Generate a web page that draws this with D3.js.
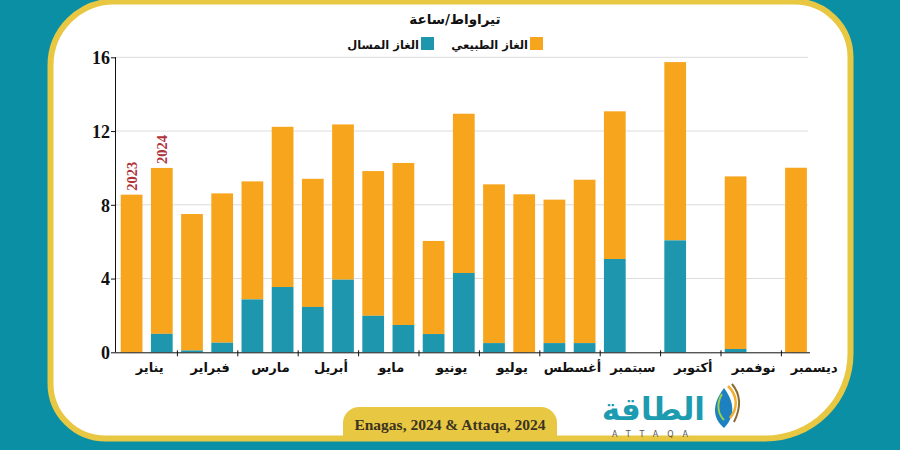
<!DOCTYPE html>
<html><head><meta charset="utf-8">
<script src="https://cdn.jsdelivr.net/npm/d3@7"></script>
<style>body{margin:0;background:#0b8fa5;}svg{display:block;}</style>
</head><body>
<svg id="chart" width="900" height="450"></svg>
<script>
const months = ['يناير','فبراير','مارس','أبريل','مايو','يونيو','يوليو','أغسطس','سبتمبر','أكتوبر','نوفمبر','ديسمبر'];
const years = ['2023','2024'];
// الغاز المسال (LNG)
const lng2023 = [0, 0.1, 2.87, 2.46, 1.98, 0.99, 0.5, 0.5, 5.06, 6.07, 0.18, 0];
const lng2024 = [1.0, 0.52, 3.54, 3.94, 1.48, 4.3, 0, 0.5];
// الغاز الطبيعي (natural gas)
const ng2023 = [8.55, 7.4, 6.4, 6.95, 7.85, 5.05, 8.61, 7.78, 8.01, 9.67, 9.36, 10.01];
const ng2024 = [9.0, 8.1, 8.69, 8.42, 8.79, 8.64, 8.57, 8.86];
const yTicks = [0, 4, 8, 12, 16];
const seriesNames = ['الغاز الطبيعي','الغاز المسال'];
const title = 'تيراواط/ساعة';
const source = 'Enagas, 2024 & Attaqa, 2024';

const colNG = '#f7a51d', colLNG = '#1e96ad', yellow = '#e8c743', teal = '#0b8fa5';
const svg = d3.select('#chart');

// background & frame
svg.append('rect').attr('width',900).attr('height',450).attr('fill',teal);
function roundRect(x0,y0,x1,y1,tl,tr,br,bl){
  return `M${x0+tl},${y0} H${x1-tr} A${tr},${tr} 0 0 1 ${x1},${y0+tr} V${y1-br} A${br},${br} 0 0 1 ${x1-br},${y1} H${x0+bl} A${bl},${bl} 0 0 1 ${x0},${y1-bl} V${y0+tl} A${tl},${tl} 0 0 1 ${x0+tl},${y0} Z`;
}
svg.append('path').attr('d',roundRect(50.5,1.5,850.5,438.5,64,56,85,55))
  .attr('fill','#ffffff').attr('stroke',yellow).attr('stroke-width',6);

// source tab
svg.append('path').attr('d','M343,440 V423 A16,16 0 0 1 359,407 H541 A16,16 0 0 1 557,423 V440 Z').attr('fill',yellow);
svg.append('text').attr('x',450).attr('y',430).attr('text-anchor','middle')
  .attr('font-family','Liberation Serif').attr('font-weight','bold').attr('font-size',15.5)
  .attr('fill','#3b3420').text(source);

// scales
const y = d3.scaleLinear().domain([0,16]).range([352.3,57.3]);
const x0 = d3.scaleBand().domain(months).range([116.5, 841.3]).padding(0);
const x1 = d3.scaleBand().domain(years).range([0, x0.bandwidth()]).paddingInner(0.28).paddingOuter(0.14);

// grid
svg.append('g').selectAll('line').data(yTicks.filter(d=>d>0)).join('line')
  .attr('x1',116).attr('x2',808).attr('y1',d=>y(d)).attr('y2',d=>y(d))
  .attr('stroke','#dcdcdc').attr('stroke-width',1);

// data rows
const rows = [];
months.forEach((m,i)=>{
  rows.push({m, yr:'2023', lng:lng2023[i], ng:ng2023[i]});
  if (i < ng2024.length) rows.push({m, yr:'2024', lng:lng2024[i], ng:ng2024[i]});
});
const bars = svg.append('g');
bars.selectAll('rect.ng').data(rows).join('rect').attr('class','ng')
  .attr('x',d=>x0(d.m)+x1(d.yr)).attr('width',x1.bandwidth())
  .attr('y',d=>y(d.lng+d.ng)).attr('height',d=>y(d.lng)-y(d.lng+d.ng)).attr('fill',colNG);
bars.selectAll('rect.lng').data(rows.filter(d=>d.lng>0)).join('rect').attr('class','lng')
  .attr('x',d=>x0(d.m)+x1(d.yr)).attr('width',x1.bandwidth())
  .attr('y',d=>y(d.lng)).attr('height',d=>y(0)-y(d.lng)).attr('fill',colLNG);

// year labels over first group
const first = rows.filter(d=>d.m===months[0]);
svg.append('g').selectAll('text').data(first).join('text')
  .attr('transform',d=>`translate(${x0(d.m)+x1(d.yr)+x1.bandwidth()/2+5},${y(d.lng+d.ng)-4}) rotate(-90)`)
  .attr('font-family','Liberation Serif').attr('font-weight','bold').attr('font-size',14.5)
  .attr('fill','#b0343c').text(d=>d.yr);

// y axis
const yAxis = d3.axisLeft(y).tickValues(yTicks).tickSize(5).tickFormat(d3.format('d'));
const gy = svg.append('g').attr('transform','translate(116,0)').call(yAxis);
gy.select('.domain').attr('d',`M-0.5,${y(16)}V${y(0)}`).attr('stroke','#111');
gy.selectAll('.tick line').attr('stroke','#111');
gy.selectAll('.tick text').attr('font-family','Liberation Serif').attr('font-weight','bold')
  .attr('font-size',18).attr('fill','#111').attr('x',-6).attr('dy','0.35em');

// x axis
const xAxis = d3.axisBottom(x0).tickSize(0).tickPadding(10);
const gx = svg.append('g').attr('transform',`translate(0,${y(0)})`).call(xAxis);
gx.select('.domain').attr('d','M116,0.5H810').attr('stroke','#111');
gx.selectAll('.tick text').attr('font-family','DejaVu Sans').attr('font-weight','bold')
  .attr('font-size',13).attr('fill','#111').attr('dx',3);
svg.append('g').selectAll('line').data(months.slice(1)).join('line')
  .attr('x1',d=>x0(d)+0.5).attr('x2',d=>x0(d)+0.5).attr('y1',y(0)-2).attr('y2',y(0)+4)
  .attr('stroke','#111');

// title & legend
svg.append('text').attr('x',455).attr('y',24).attr('text-anchor','middle')
  .attr('font-family','DejaVu Sans').attr('font-weight','bold').attr('font-size',13.5)
  .attr('fill','#111').text(title);
const legend = [{name:seriesNames[0],c:colNG,x:530},{name:seriesNames[1],c:colLNG,x:421}];
const lg = svg.append('g').selectAll('g').data(legend).join('g');
lg.append('rect').attr('x',d=>d.x).attr('y',37).attr('width',13).attr('height',13).attr('fill',d=>d.c);
lg.append('text').attr('x',d=>d.x-2).attr('y',48.5).attr('text-anchor','end')
  .attr('font-family','DejaVu Sans').attr('font-weight','bold').attr('font-size',11.5)
  .attr('fill','#111').text(d=>d.name);

// logo
svg.append('text').attr('x',705).attr('y',420).attr('text-anchor','end')
  .attr('font-family','DejaVu Sans').attr('font-weight','bold').attr('font-size',31)
  .attr('fill','#1d9bb0').text('الطاقة');
svg.append('text').attr('x',612).attr('y',437).attr('font-family','DejaVu Sans').attr('font-size',8)
  .attr('letter-spacing',9).attr('fill','#555').text('ATTAQA');
const logo = svg.append('g').attr('transform','translate(724,388)');
logo.append('path').attr('d','M0,0 C-12,16 -12,30 0,40 C10,30 12,16 0,0 Z').attr('fill','#1d80c0');
logo.append('path').attr('d','M4,-2 C14,8 14,20 6,30').attr('fill','none').attr('stroke','#f0b030').attr('stroke-width',2.5);
logo.append('path').attr('d','M8,-4 C18,8 16,22 10,34').attr('fill','none').attr('stroke','#8a6a30').attr('stroke-width',2);
logo.append('path').attr('d','M-2,6 C-8,16 -6,26 0,32').attr('fill','none').attr('stroke','#9ad04a').attr('stroke-width',2);
</script>
</body></html>
